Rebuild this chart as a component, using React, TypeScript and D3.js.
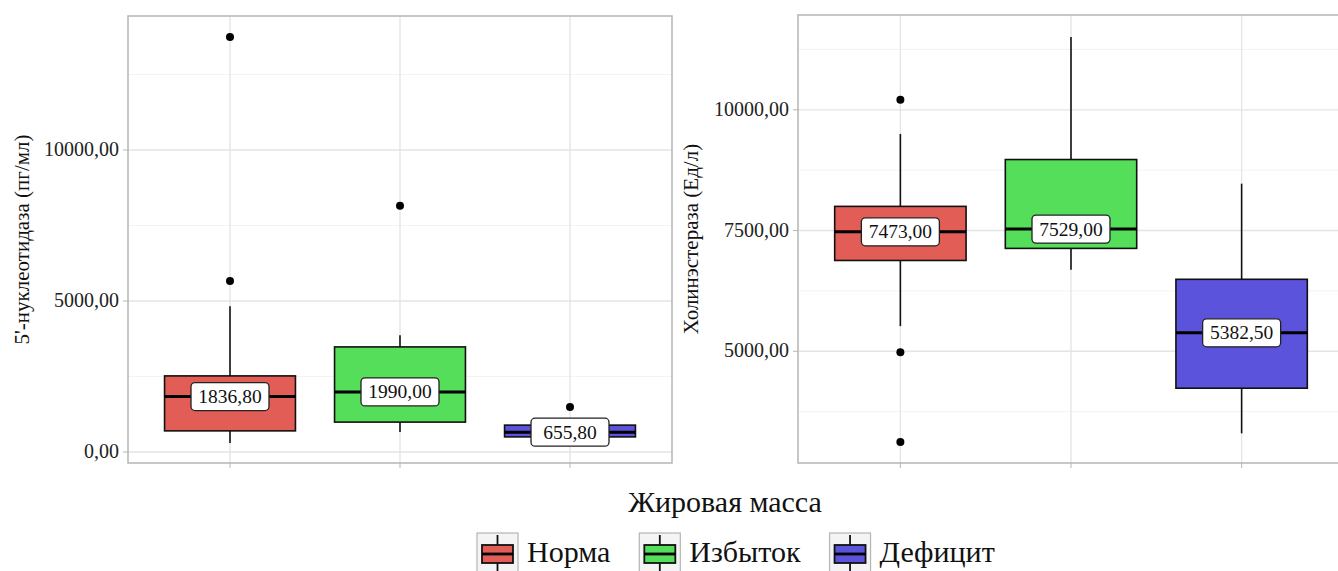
import React, { useEffect, useRef } from "react";
import * as d3 from "d3";

const categories = ["Норма", "Избыток", "Дефицит"];
const colors = ["#e35d57", "#55de5a", "#5b53dc"];

// 5'-нуклеотидаза (пг/мл)
const nucLow = [300, 660, 430];
const nucQ1 = [700, 990, 500];
const nucMedian = [1836.8, 1990.0, 655.8];
const nucQ3 = [2520, 3480, 890];
const nucHigh = [4830, 3870, 960];
const nucOutliers = [[5660, 13740], [8150], [1490]];
const nucTicks = [0, 5000, 10000];

// Холинэстераза (Ед/л)
const cheLow = [5520, 6690, 3300];
const cheQ1 = [6880, 7130, 4235];
const cheMedian = [7473.0, 7529.0, 5382.5];
const cheQ3 = [8000, 8970, 6490];
const cheHigh = [9500, 11510, 8470];
const cheOutliers = [[10210, 4980, 3120], [], []];
const cheTicks = [5000, 7500, 10000];

const FONT = "'Liberation Serif', 'DejaVu Serif', serif";
const fmt = (v: number) => v.toFixed(2).replace(".", ",");

const App = () => {
    const svgRef = useRef<SVGSVGElement>(null);

    useEffect(() => {
        const svg = d3.select(svgRef.current);
        svg.selectAll("*").remove();

        const drawPanel = (opts: any) => {
            const { left, right, top, bottom, domain, ticks, title, titleX, low, q1, med, q3, high, outliers } = opts;
            const g = svg.append("g");

            const x = d3.scalePoint<string>().domain(categories).range([left, right]).padding(0.6);
            const y = d3.scaleLinear().domain(domain).range([bottom, top]);
            const boxW = x.step() * 0.77;

            // minor grid halfway between the major ticks
            const tstep = ticks[1] - ticks[0];
            const minor = d3.range(ticks[0] - tstep / 2, domain[1], tstep).filter((v) => v > domain[0]);
            g.selectAll(".minor").data(minor)
                .enter().append("line")
                .attr("x1", left).attr("x2", right)
                .attr("y1", (d) => y(d)).attr("y2", (d) => y(d))
                .attr("stroke", "#f3f3f3").attr("stroke-width", 1);

            g.selectAll(".major").data(ticks)
                .enter().append("line")
                .attr("x1", left).attr("x2", right)
                .attr("y1", (d: number) => y(d)).attr("y2", (d: number) => y(d))
                .attr("stroke", "#e4e4e4").attr("stroke-width", 1.3);

            g.selectAll(".vgrid").data(categories)
                .enter().append("line")
                .attr("x1", (d) => x(d)!).attr("x2", (d) => x(d)!)
                .attr("y1", top).attr("y2", bottom)
                .attr("stroke", "#e4e4e4").attr("stroke-width", 1.3);

            // boxes
            categories.forEach((c, i) => {
                const cx = x(c)!;
                g.append("line").attr("x1", cx).attr("x2", cx)
                    .attr("y1", y(q3[i])).attr("y2", y(high[i]))
                    .attr("stroke", "#111").attr("stroke-width", 1.6);
                g.append("line").attr("x1", cx).attr("x2", cx)
                    .attr("y1", y(q1[i])).attr("y2", y(low[i]))
                    .attr("stroke", "#111").attr("stroke-width", 1.6);
                g.append("rect")
                    .attr("x", cx - boxW / 2).attr("width", boxW)
                    .attr("y", y(q3[i])).attr("height", y(q1[i]) - y(q3[i]))
                    .attr("fill", colors[i]).attr("stroke", "#111").attr("stroke-width", 1.6);
                g.append("line").attr("x1", cx - boxW / 2).attr("x2", cx + boxW / 2)
                    .attr("y1", y(med[i])).attr("y2", y(med[i]))
                    .attr("stroke", "#000").attr("stroke-width", 3);
                outliers[i].forEach((o: number) => {
                    g.append("circle").attr("cx", cx).attr("cy", y(o)).attr("r", 4).attr("fill", "#000");
                });
                const lbl = g.append("g").attr("transform", `translate(${cx},${y(med[i])})`);
                lbl.append("rect").attr("x", -39).attr("y", -14).attr("width", 78).attr("height", 28)
                    .attr("rx", 4).attr("fill", "#fff").attr("stroke", "#222").attr("stroke-width", 1.3);
                lbl.append("text").attr("text-anchor", "middle").attr("y", 6.5)
                    .attr("font-family", FONT).attr("font-size", 19.5).attr("fill", "#111")
                    .text(fmt(med[i]));
            });

            // panel border
            g.append("rect").attr("x", left).attr("y", top)
                .attr("width", right - left).attr("height", bottom - top)
                .attr("fill", "none").attr("stroke", "#b5b5b5").attr("stroke-width", 1.5);

            // axis ticks and labels
            g.selectAll(".ytl").data(ticks).enter().append("text")
                .attr("x", left - 9).attr("y", (d: number) => y(d) + 6)
                .attr("text-anchor", "end").attr("font-family", FONT).attr("font-size", 20)
                .attr("fill", "#222").text((d: number) => fmt(d));
            g.selectAll(".ytk").data(ticks).enter().append("line")
                .attr("x1", left - 5).attr("x2", left)
                .attr("y1", (d: number) => y(d)).attr("y2", (d: number) => y(d))
                .attr("stroke", "#b5b5b5");
            g.selectAll(".xtk").data(categories).enter().append("line")
                .attr("x1", (d) => x(d)!).attr("x2", (d) => x(d)!)
                .attr("y1", bottom).attr("y2", bottom + 5)
                .attr("stroke", "#b5b5b5");

            g.append("text")
                .attr("transform", `translate(${titleX},${(top + bottom) / 2}) rotate(-90)`)
                .attr("text-anchor", "middle").attr("font-family", FONT).attr("font-size", 21)
                .attr("fill", "#111").text(title);
        };

        drawPanel({
            left: 128, right: 672, top: 16, bottom: 463,
            domain: [-364, 14437], ticks: nucTicks,
            title: "5'-нуклеотидаза (пг/мл)", titleX: 29,
            low: nucLow, q1: nucQ1, med: nucMedian, q3: nucQ3, high: nucHigh, outliers: nucOutliers,
        });
        drawPanel({
            left: 798, right: 1344, top: 15, bottom: 463,
            domain: [2686, 11963], ticks: cheTicks,
            title: "Холинэстераза (Ед/л)", titleX: 698,
            low: cheLow, q1: cheQ1, med: cheMedian, q3: cheQ3, high: cheHigh, outliers: cheOutliers,
        });

        // x title
        svg.append("text").attr("x", 725).attr("y", 512).attr("text-anchor", "middle")
            .attr("font-family", FONT).attr("font-size", 30).attr("fill", "#111").text("Жировая масса");

        // legend, laid out left to right
        let lx = 477;
        categories.forEach((c, i) => {
            const lg = svg.append("g").attr("transform", `translate(${lx},533)`);
            lg.append("rect").attr("x", 0).attr("y", 0).attr("width", 41).attr("height", 41)
                .attr("fill", "#f4f4f4").attr("stroke", "#b5b5b5").attr("stroke-width", 1.2);
            lg.append("line").attr("x1", 20.5).attr("x2", 20.5).attr("y1", 2).attr("y2", 39)
                .attr("stroke", "#111").attr("stroke-width", 1.8);
            lg.append("rect").attr("x", 5).attr("y", 12).attr("width", 31).attr("height", 18)
                .attr("fill", colors[i]).attr("stroke", "#111").attr("stroke-width", 1.8);
            lg.append("line").attr("x1", 5).attr("x2", 36).attr("y1", 21).attr("y2", 21)
                .attr("stroke", "#000").attr("stroke-width", 2.8);
            const t = lg.append("text").attr("x", 50).attr("y", 29)
                .attr("font-family", FONT).attr("font-size", 30).attr("fill", "#111").text(c);
            const w = (t.node() as SVGTextElement).getComputedTextLength();
            lx += 50 + w + 29;
        });
    }, []);

    return (
        <svg ref={svgRef} width={1338} height={571}
            style={{ position: "absolute", left: 0, top: 0, background: "#fff" }} />
    );
};

export default App;
